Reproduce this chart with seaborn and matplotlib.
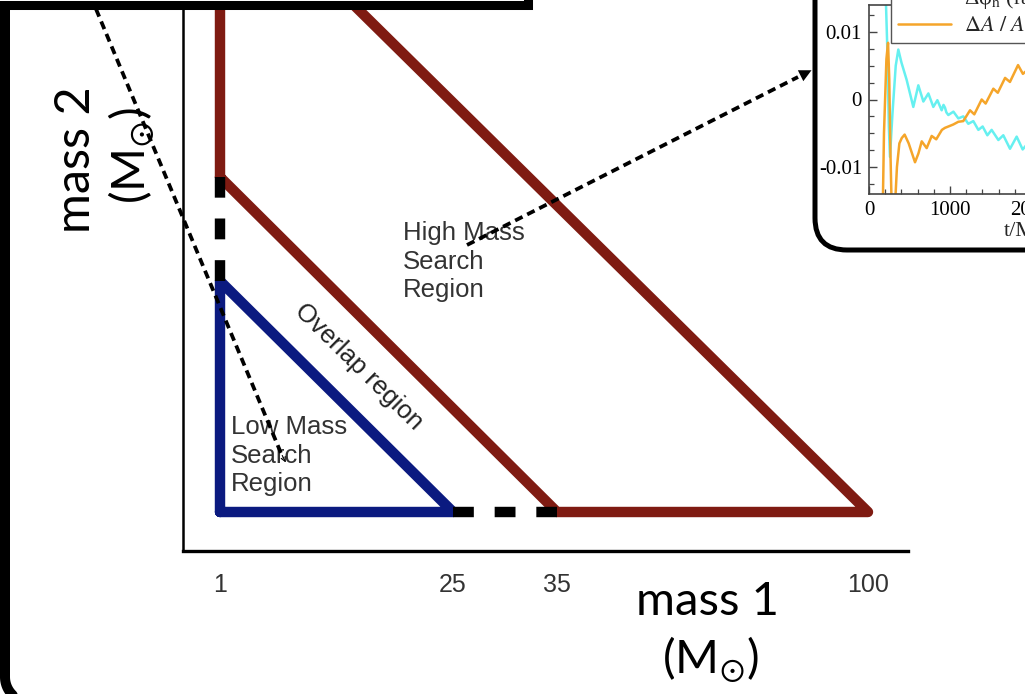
import numpy as np
import pandas as pd
import matplotlib
matplotlib.use("Agg")
import matplotlib.pyplot as plt
import seaborn as sns
from matplotlib import transforms as mtrans
from matplotlib.patches import FancyBboxPatch, Rectangle, FancyArrowPatch
from matplotlib.lines import Line2D
from matplotlib.ticker import MultipleLocator

# ---------------- data ----------------
mass_ticks = [1, 25, 35, 100]
mass_tick_labels = ["1", "25", "35", "100"]

low_m1 = [1, 25, 1, 1]
low_m2 = [1, 1, 25, 1]
high_m1 = [1, 35, 100, 1, 1]
high_m2 = [35, 1, 1, 100, 35]
gapx_m1 = [25, 35]
gapx_m2 = [1, 1]
gapy_m1 = [1, 1]
gapy_m2 = [25, 35]

t_phase = [205, 225, 245, 259, 290, 330, 362, 400, 465, 547, 609, 671, 733, 794,
           844, 897, 920, 938, 955, 979, 1042, 1103, 1164, 1226, 1288, 1350, 1403,
           1461, 1514, 1597, 1658, 1741, 1823, 1897, 1940]
dphi = [0.016, 0.008, -0.004, -0.0085, -0.002, 0.005, 0.0074, 0.0055, 0.0029, -0.0011,
        0.0021, -0.0003, 0.0009, -0.0011, -0.0001, -0.0016, -0.0008, -0.0012, -0.0019,
        -0.0023, -0.0018, -0.0028, -0.0025, -0.0036, -0.0032, -0.0045, -0.0040, -0.0053,
        -0.0045, -0.0060, -0.0053, -0.0073, -0.0055, -0.0074, -0.0068]

t_amp = [170, 185, 215, 235, 250, 265, 280, 320, 345, 375, 405, 440, 490, 568, 610, 651,
         712, 774, 830, 900, 938, 980, 1041, 1103, 1164, 1247, 1300, 1391, 1440, 1535,
         1590, 1680, 1740, 1840, 1900, 1940]
damp = [-0.016, -0.005, 0.006, 0.0084, 0.003, -0.008, -0.016, -0.016, -0.010, -0.0065,
        -0.0057, -0.0052, -0.0065, -0.0093, -0.0080, -0.0062, -0.0072, -0.0054, -0.0059,
        -0.0045, -0.0042, -0.0040, -0.0037, -0.0033, -0.0032, -0.0016, -0.0022, 0.0,
        -0.0006, 0.0016, 0.0010, 0.0032, 0.0026, 0.0051, 0.0038, 0.0042]

inset_xticks = [0, 1000, 2000, 3000]
inset_yticks = [-0.01, 0, 0.01]
inset_ytick_labels = ["-0.01", "0", "0.01"]

# ---------------- layout (schematic axis knots, pixels from axis origin) ----------------
x_knots_pos = [37, 270, 374, 685]
y_knots_pos = [39, 270, 374, 678]

BLUE = "#0b1a80"
RED = "#7f1b12"
CYAN = "#66f0f0"
ORANGE = "#f5a52a"

sns.set_theme(style="white")
plt.rcParams["font.family"] = ["Liberation Sans", "DejaVu Sans"]
plt.rcParams["mathtext.fontset"] = "stix"

W, H = 1025, 694
fig = plt.figure(figsize=(W / 100, H / 100), dpi=100)
fig.patch.set_facecolor("white")
# pixel transform (origin top-left, y down)
T = mtrans.Affine2D().scale(1 / 100, -1 / 100).translate(0, H / 100) + fig.dpi_scale_trans


def piecewise(src, dst):
    src = np.asarray(src, float)
    dst = np.asarray(dst, float)
    s0 = (dst[1] - dst[0]) / (src[1] - src[0])
    s1 = (dst[-1] - dst[-2]) / (src[-1] - src[-2])

    def f(v):
        v = np.asarray(v, float)
        out = np.interp(v, src, dst)
        out = np.where(v < src[0], dst[0] + (v - src[0]) * s0, out)
        out = np.where(v > src[-1], dst[-1] + (v - src[-1]) * s1, out)
        return out
    return f


fx, ix = piecewise(mass_ticks, x_knots_pos), piecewise(x_knots_pos, mass_ticks)
fy, iy = piecewise(mass_ticks, y_knots_pos), piecewise(y_knots_pos, mass_ticks)

ax_x0, ax_y0 = 183, 551
ax_w, ax_h = 725, 551
ax = fig.add_axes([ax_x0 / W, (H - ax_y0) / H, ax_w / W, ax_h / H])
ax.set_facecolor("none")
ax.set_xscale("function", functions=(fx, ix))
ax.set_yscale("function", functions=(fy, iy))
ax.set_xlim(float(ix(0)), float(ix(ax_w)))
ax.set_ylim(float(iy(0)), float(iy(ax_h)))

lw_main = 7.5
sns.lineplot(x=low_m1, y=low_m2, ax=ax, sort=False, estimator=None, color=BLUE,
             lw=lw_main, solid_joinstyle="round", zorder=3)
sns.lineplot(x=high_m1, y=high_m2, ax=ax, sort=False, estimator=None, color=RED,
             lw=lw_main, solid_joinstyle="round", zorder=3)
ax.plot(gapx_m1, gapx_m2, color="black", lw=lw_main, linestyle=(0, (2, 2)),
        dash_capstyle="butt", zorder=4)
ax.plot(gapy_m1, gapy_m2, color="black", lw=lw_main, linestyle=(0, (2, 2)),
        dash_capstyle="butt", zorder=4)

for s in ["top", "right"]:
    ax.spines[s].set_visible(False)
ax.spines["left"].set_linewidth(1.8)
ax.spines["left"].set_color("black")
ax.spines["bottom"].set_linewidth(2.4)
ax.spines["bottom"].set_color("black")
ax.set_xticks(mass_ticks)
ax.set_xticklabels(mass_tick_labels)
ax.minorticks_off()
ax.set_yticks([])
ax.tick_params(axis="x", direction="inout", length=18, width=0.9, color="#aaaaaa",
               pad=7, labelsize=18, labelcolor="#333333")
ax.set_xlabel("")
ax.set_ylabel("")

# region labels
fig.text(403, 221, "High Mass\nSearch\nRegion", transform=T, ha="left", va="top",
         fontsize=18.5, color="#333333", linespacing=1.25)
fig.text(231, 415, "Low Mass\nSearch\nRegion", transform=T, ha="left", va="top",
         fontsize=18.5, color="#333333", linespacing=1.25)
fig.text(359, 367, "Overlap region", transform=T, ha="center", va="center",
         rotation=-44.5, rotation_mode="anchor", fontsize=18.5, color="#222222")

# axis titles
lab_font = ["Lato", "DejaVu Sans"]
fig.text(708, 615, "mass 1", transform=T, ha="center", va="baseline",
         fontsize=34, family=lab_font, color="black")
fig.text(711, 660, r"(M$_{\odot}$)", transform=T, ha="center", va="center",
         fontsize=34, family=lab_font, color="black")
fig.text(76, 160, "mass 2", transform=T, ha="center", va="center", rotation=90,
         fontsize=35, family=lab_font, color="black")
fig.text(132, 155, r"(M$_{\odot}$)", transform=T, ha="center", va="center", rotation=90,
         fontsize=34, family=lab_font, color="black")

# ---------------- inset ----------------
inset_frame = FancyBboxPatch((815, -200), 700, 450, boxstyle="round,pad=0,rounding_size=32",
                             transform=T, facecolor="white", edgecolor="black", lw=3.6,
                             zorder=0.5)
fig.add_artist(inset_frame)

i_left, i_top, i_bot, i_right = 869, 5, 194, 1180
iax = fig.add_axes([i_left / W, (H - i_bot) / H, (i_right - i_left) / W, (i_bot - i_top) / H])
iax.set_zorder(2)
iax.set_facecolor("white")
px_per_t = 81 / 1000
iax.set_xlim(0, (i_right - i_left) / px_per_t)
y0_px = 99.5
px_per_v = 6750
iax.set_ylim(-(i_bot - y0_px) / px_per_v, (y0_px - i_top) / px_per_v)

sns.lineplot(x=t_phase, y=dphi, ax=iax, sort=False, estimator=None, color=CYAN, lw=1.8)
sns.lineplot(x=t_amp, y=damp, ax=iax, sort=False, estimator=None, color=ORANGE, lw=1.8)

serif = ["Liberation Serif", "DejaVu Serif"]
iax.set_xticks(inset_xticks)
iax.set_xticklabels([str(v) for v in inset_xticks], family=serif)
iax.set_yticks(inset_yticks)
iax.set_yticklabels(inset_ytick_labels, family=serif)
iax.xaxis.set_minor_locator(MultipleLocator(200))
iax.yaxis.set_minor_locator(MultipleLocator(0.0025))
iax.tick_params(which="major", direction="in", length=6, width=1, color="#444444",
                labelsize=15, labelcolor="black", pad=5, left=True, bottom=True)
iax.tick_params(which="minor", direction="in", length=3.5, width=0.9, color="#444444",
                left=True, bottom=True)
for s in iax.spines.values():
    s.set_color("#444444")
    s.set_linewidth(1.2)
iax.set_xlabel("")
iax.set_ylabel("")

handles = [Line2D([], [], color=CYAN, lw=1.8), Line2D([], [], color=ORANGE, lw=1.8)]
labels = [r"Δφ$_{\mathrm{h}}$ (rad)", r"$\Delta A\ /\ A$"]
leg = iax.legend(handles, labels, loc="lower left", bbox_to_anchor=(891, 43),
                 bbox_transform=T, borderaxespad=0, handlelength=2.4,
                 handletextpad=0.6, borderpad=0.3, labelspacing=0.2, fancybox=False,
                 framealpha=1, edgecolor="#555555", prop={"family": serif, "size": 16})
leg.get_frame().set_linewidth(1.0)
fig.text(1004, 232, "t/M", transform=T, ha="left", va="center", fontsize=16, family=serif)

# ---------------- slide frames ----------------
arc_theta = np.linspace(np.pi, np.pi / 2, 30)
arc_cx, arc_cy, arc_r = 30, 677, 25
frame_x = np.concatenate([[5], arc_cx + arc_r * np.cos(arc_theta), [1200]])
frame_y = np.concatenate([[-20], arc_cy + arc_r * np.sin(arc_theta), [arc_cy + arc_r]])
fig.add_artist(Line2D(frame_x, frame_y, transform=T, color="black", lw=7.2,
                      solid_joinstyle="round", zorder=6))
fig.add_artist(Rectangle((-20, -300), 548, 304.5, transform=T, facecolor="white",
                         edgecolor="black", lw=6.5, zorder=7))

# ---------------- dotted pointers ----------------
fig.add_artist(Line2D([96, 283], [9, 458], transform=T, color="black", lw=2.7,
                      linestyle=(0, (2.2, 1.4)), zorder=5))
fig.add_artist(FancyArrowPatch((281, 453), (287, 465), transform=T, arrowstyle="->",
                               mutation_scale=8, lw=0.8, color="black", zorder=5))
fig.add_artist(Line2D([467, 798], [245, 77], transform=T, color="black", lw=2.7,
                      linestyle=(0, (2.2, 1.4)), zorder=5))
fig.add_artist(FancyArrowPatch((792, 80), (814, 69), transform=T, arrowstyle="-|>",
                               mutation_scale=22, lw=0, color="black", zorder=5))

fig.savefig("out.png", dpi=100, facecolor="white")
